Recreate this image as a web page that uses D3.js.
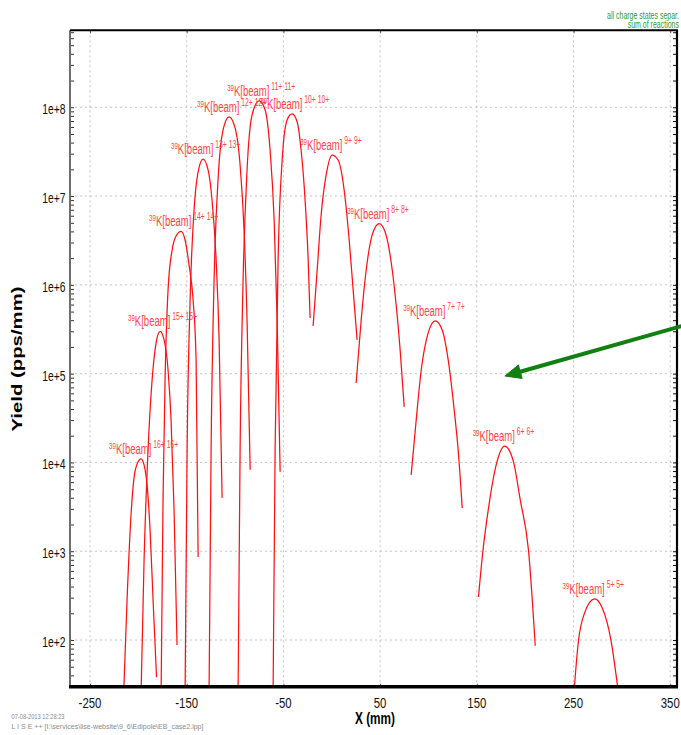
<!DOCTYPE html>
<html>
<head>
<meta charset="utf-8">
<script src="https://cdn.jsdelivr.net/npm/d3@7"></script>
<style>
  body { margin: 0; background: #fff; }
  svg { display: block; }
  text { font-family: "Liberation Sans", Arial, sans-serif; }
</style>
</head>
<body>
<svg id="chart" width="681" height="735"></svg>
<script>
// Charge-state distributions of the 39K beam after the dipole (yield vs. X position)
const chargeStates = [16, 15, 14, 13, 12, 11, 10, 9, 8, 7, 6, 5];

const x16 = [-215.2, -211.7, -207.6, -204.5, -200.8, -197.2, -194.1, -191.0, -187.9, -184.8, -181.2];
const y16 = [25, 282, 2560, 6690, 9890, 11000, 9390, 5570, 1740, 282, 38];

const x15 = [-197.2, -194.1, -190.0, -185.8, -181.7, -177.6, -173.4, -169.3, -166.2, -163.1, -160.0];
const y15 = [25, 798, 13800, 84900, 221000, 300000, 240000, 110000, 30100, 2920, 88];

const x14 = [-176.5, -174.5, -172.4, -169.3, -165.1, -161.0, -155.8, -151.7, -147.6, -143.4, -140.3, -138.2];
const y14 = [25, 3790, 84900, 877000, 2.47e6, 3.55e6, 4.0e6, 3.2e6, 1.68e6, 676000, 142600, 862];

const x13 = [-151.7, -149.6, -146.5, -142.4, -138.2, -133.1, -127.9, -123.8, -119.6, -116.5, -113.4];
const y13 = [25, 13800, 676000, 6.97e6, 1.87e7, 2.6e7, 1.97e7, 9.03e6, 1.91e6, 240000, 3990];

const x12 = [-126.9, -124.8, -121.7, -117.6, -112.4, -106.2, -100.0, -94.8, -90.7, -87.6, -84.4];
const y12 = [25, 13800, 1.14e6, 1.52e7, 5.55e7, 7.8e7, 5.85e7, 2.24e7, 4.15e6, 4.0e5, 8250];

const x11 = [-96.9, -94.8, -91.7, -87.6, -82.4, -75.1, -68.9, -63.8, -59.6, -56.5, -53.4];
const y11 = [25, 13800, 1.14e6, 1.97e7, 8.2e7, 1.18e8, 9.33e7, 3.3e7, 5.38e6, 4.0e5, 7830];

const x10 = [-60.7, -58.6, -55.5, -51.3, -46.2, -41.0, -35.8, -31.7, -27.6, -24.4, -22.4];
const y10 = [25, 13800, 1.91e6, 2.55e7, 7.2e7, 8.4e7, 6.83e7, 3.3e7, 9.03e6, 1.91e6, 424000];

const x9 = [-19.3, -15.1, -11.0, -5.8, 0.4, 6.6, 12.8, 18.0, 22.1, 26.2];
const y9 = [344000, 1.47e6, 6.12e6, 1.73e7, 2.9e7, 2.55e7, 1.17e7, 3.2e6, 877000, 240000];

const x8 = [25.2, 30.4, 35.6, 41.8, 49.0, 55.2, 61.4, 66.6, 70.7, 74.9];
const y8 = [78500, 402000, 1.47e6, 3.65e6, 4.9e6, 3.94e6, 1.81e6, 594000, 185000, 42200];

const x7 = [82.1, 87.3, 92.5, 99.7, 106.9, 114.2, 120.4, 126.6, 130.7, 134.9];
const y7 = [7240, 30100, 110000, 288000, 392000, 310000, 142600, 39000, 13800, 3070];

const x6 = [151.7, 156.3, 161.8, 170.8, 178.8, 187.9, 194.9, 203.5, 210.4];
const y6 = [305, 1008, 2920, 10150, 15300, 10150, 3790, 1008, 86];

const x5 = [250.4, 255.2, 261.1, 271.7, 279.7, 288.7, 296.5];
const y5 = [25, 100, 197, 290, 230, 100, 25];

const xTickValues = [-250, -150, -50, 50, 150, 250, 350];
const xTickLabels = ["-250", "-150", "-50", "50", "150", "250", "350"];
const yTickValues = [1e2, 1e3, 1e4, 1e5, 1e6, 1e7, 1e8];
const yTickLabels = ["1e+2", "1e+3", "1e+4", "1e+5", "1e+6", "1e+7", "1e+8"];

// pointer annotation (tail, tip) in data units
const arrowX = [362, 179];
const arrowY = [3.44e5, 9.4e4];

const seriesX = [x16, x15, x14, x13, x12, x11, x10, x9, x8, x7, x6, x5];
const seriesY = [y16, y15, y14, y13, y12, y11, y10, y9, y8, y7, y6, y5];
const series = chargeStates.map((q, i) => ({
  q,
  points: seriesX[i].map((xv, j) => [xv, seriesY[i][j]])
}));

const plot = { left: 70, right: 677, top: 30.3, bottom: 686.7 };

const x = d3.scaleLinear().domain([-270.7, 357]).range([plot.left, plot.right]);
const y = d3.scaleLog().domain([29.8, 7.36e8]).range([plot.bottom, plot.top]);

const svg = d3.select("#chart");

svg.append("defs").append("clipPath").attr("id", "plot-clip")
  .append("rect")
  .attr("x", plot.left).attr("y", plot.top)
  .attr("width", plot.right - plot.left).attr("height", plot.bottom - plot.top);

// condensed text helper (narrow face look)
function narrowText(sel, px, py, sx) {
  return sel.attr("transform", `translate(${px},${py}) scale(${sx},1)`);
}

// grid
const grid = svg.append("g").attr("stroke", "#c4c4c4").attr("stroke-dasharray", "2,3").attr("stroke-width", 1);
grid.selectAll("line.gx").data(xTickValues).join("line")
  .attr("x1", d => x(d)).attr("x2", d => x(d))
  .attr("y1", plot.top).attr("y2", plot.bottom);
grid.selectAll("line.gy").data(yTickValues).join("line")
  .attr("y1", d => y(d)).attr("y2", d => y(d))
  .attr("x1", plot.left).attr("x2", plot.right);

// axes ticks (inward)
const logTicks = y.ticks();
svg.append("g").attr("transform", `translate(${plot.left},0)`)
  .call(d3.axisLeft(y).tickValues(logTicks).tickSize(-4).tickFormat(""))
  .call(g => g.select(".domain").remove())
  .call(g => g.selectAll("line").attr("stroke", "#333"));
svg.append("g").attr("transform", `translate(${plot.right},0)`)
  .call(d3.axisRight(y).tickValues(logTicks).tickSize(-4).tickFormat(""))
  .call(g => g.select(".domain").remove())
  .call(g => g.selectAll("line").attr("stroke", "#111"));
svg.append("g").attr("transform", `translate(0,${plot.top})`)
  .call(d3.axisTop(x).tickValues(xTickValues).tickSize(-3).tickFormat(""))
  .call(g => g.select(".domain").remove())
  .call(g => g.selectAll("line").attr("stroke", "#555"));
svg.append("g").attr("transform", `translate(0,${plot.bottom})`)
  .call(d3.axisBottom(x).tickValues(xTickValues).tickSize(-3).tickFormat(""))
  .call(g => g.select(".domain").remove())
  .call(g => g.selectAll("line").attr("stroke", "#555"));

// curves
const line = d3.line()
  .x(d => x(d[0]))
  .y(d => y(d[1]))
  .curve(d3.curveMonotoneX);

const curves = svg.append("g").attr("clip-path", "url(#plot-clip)");
curves.selectAll("path").data(series).join("path")
  .attr("d", d => line(d.points))
  .attr("fill", "none")
  .attr("stroke", "#ff1010")
  .attr("stroke-width", 1.25);

// peak labels
const labels = svg.append("g").attr("fill", "#ff4444");
series.forEach(s => {
  const peak = s.points.reduce((a, b) => (b[1] > a[1] ? b : a));
  const t = labels.append("text");
  narrowText(t, x(peak[0]) - 32, y(peak[1]) - 5, 0.68);
  t.append("tspan").attr("font-size", 9).attr("dy", -5).text("39");
  t.append("tspan").attr("font-size", 14).attr("dy", 5).text("K[beam]");
  t.append("tspan").attr("font-size", 10).attr("dy", -6).text(` ${s.q}+ ${s.q}+`);
});

// frame
const frame = svg.append("g");
frame.append("line").attr("x1", plot.left).attr("x2", plot.left)
  .attr("y1", plot.top).attr("y2", plot.bottom)
  .attr("stroke", "#6e6e6e").attr("stroke-width", 2);
frame.append("line").attr("x1", plot.left).attr("x2", plot.right + 1)
  .attr("y1", plot.top).attr("y2", plot.top)
  .attr("stroke", "#000").attr("stroke-width", 2);
frame.append("line").attr("x1", plot.right).attr("x2", plot.right)
  .attr("y1", plot.top).attr("y2", plot.bottom)
  .attr("stroke", "#000").attr("stroke-width", 2.2);
frame.append("line").attr("x1", plot.left - 1).attr("x2", plot.right + 1)
  .attr("y1", plot.bottom).attr("y2", plot.bottom)
  .attr("stroke", "#000").attr("stroke-width", 3.5);

// tick labels
svg.append("g").selectAll("text").data(yTickValues).join("text")
  .each(function (d) {
    narrowText(d3.select(this), 65.5, y(d) + 7, 0.74);
  })
  .attr("text-anchor", "end").attr("font-size", 14).attr("fill", "#111")
  .text((d, i) => yTickLabels[i]);

svg.append("g").selectAll("text").data(xTickValues).join("text")
  .each(function (d) {
    narrowText(d3.select(this), x(d), 708, 0.76);
  })
  .attr("text-anchor", "middle").attr("font-size", 15).attr("fill", "#111")
  .text((d, i) => xTickLabels[i]);

// axis titles
svg.append("text")
  .attr("transform", "translate(22,359) rotate(-90)")
  .attr("text-anchor", "middle").attr("font-size", 14).attr("font-weight", "bold")
  .attr("textLength", 145).attr("lengthAdjust", "spacingAndGlyphs")
  .text("Yield (pps/mm)");

svg.append("text")
  .attr("x", 355).attr("y", 724)
  .attr("font-size", 16).attr("font-weight", "bold")
  .attr("textLength", 40).attr("lengthAdjust", "spacingAndGlyphs")
  .text("X (mm)");

// legend notes, top right
const note1 = svg.append("text").attr("text-anchor", "end")
  .attr("font-size", 10).attr("fill", "#2f9a2f").text("all charge states separ.");
narrowText(note1, 679, 19, 0.7);
const note2 = svg.append("text").attr("text-anchor", "end")
  .attr("font-size", 10).attr("fill", "#2f9a2f").text("sum of reactions");
narrowText(note2, 679, 28, 0.7);

// file stamp, bottom left
svg.append("text").attr("x", 11.5).attr("y", 718.5)
  .attr("font-size", 8).attr("fill", "#8a8a8a")
  .attr("textLength", 53).attr("lengthAdjust", "spacingAndGlyphs")
  .text("07-08-2013 12:28:23");
svg.append("text").attr("x", 11.5).attr("y", 728.5)
  .attr("font-size", 8).attr("fill", "#8a8a8a")
  .attr("textLength", 192).attr("lengthAdjust", "spacingAndGlyphs")
  .text("L I S E ++ [I:\\services\\lise-website\\9_6\\Edipole\\EB_case2.lpp]");

// green pointer arrow
const ax0 = x(arrowX[0]), ay0 = y(arrowY[0]);
const ax1 = x(arrowX[1]), ay1 = y(arrowY[1]);
const ang = Math.atan2(ay1 - ay0, ax1 - ax0);
const headLen = 16, headHalf = 7;
const bx = ax1 - headLen * Math.cos(ang), by = ay1 - headLen * Math.sin(ang);
const arrow = svg.append("g").attr("fill", "#118011").attr("stroke", "#118011");
arrow.append("line")
  .attr("x1", ax0).attr("y1", ay0).attr("x2", bx + 2 * Math.cos(ang)).attr("y2", by + 2 * Math.sin(ang))
  .attr("stroke-width", 4);
arrow.append("polygon")
  .attr("stroke-width", 1)
  .attr("points", [
    [ax1, ay1],
    [bx - headHalf * Math.sin(ang), by + headHalf * Math.cos(ang)],
    [bx + headHalf * Math.sin(ang), by - headHalf * Math.cos(ang)]
  ].map(p => p.join(",")).join(" "));
</script>
</body>
</html>
